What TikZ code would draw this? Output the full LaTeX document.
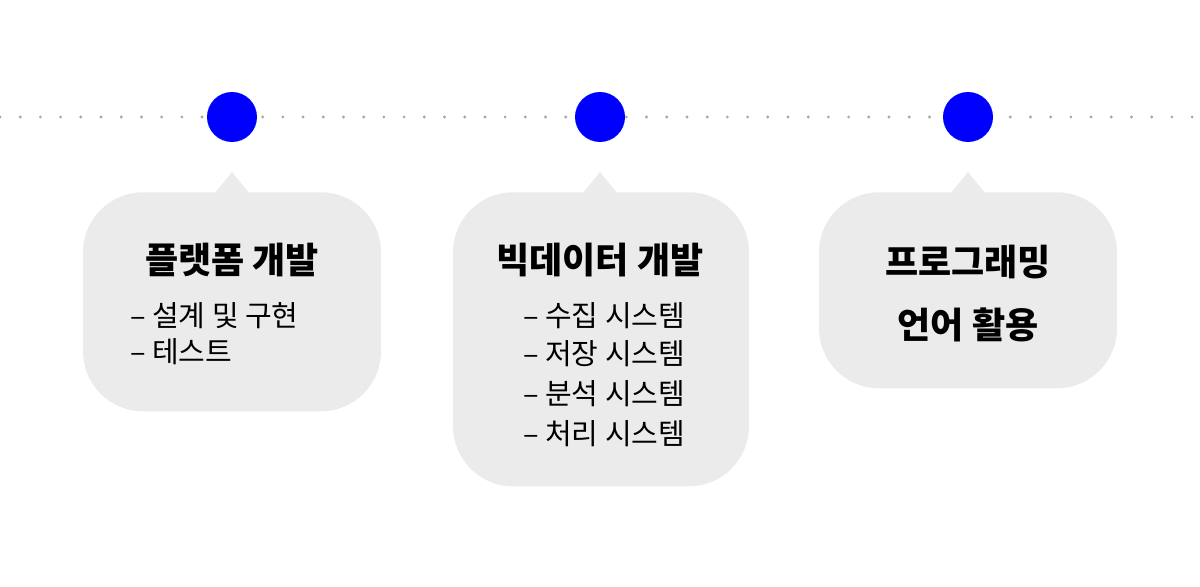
\documentclass[tikz,border=0pt]{standalone}
\usepackage{fontspec}
\newfontfamily\kr{Noto Sans CJK KR}
\usetikzlibrary{positioning}
\tikzset{
    dot/.style={circle, fill=blue, minimum size=1cm, inner sep=0pt},
    bubble/.style={rectangle, fill=black!8, rounded corners=1.2cm, minimum width=5.96cm},
    title/.style={font=\kr\bfseries\fontsize{20.5}{24}\selectfont, align=center},
    item/.style={font=\kr\fontsize{16.5}{19}\selectfont, anchor=west}
}
\begin{document}
\begin{tikzpicture}[x=0.02cm, y=-0.02cm]
    \useasboundingbox (0,0) rectangle (1200,587);
    % timeline
    \coordinate (lstart) at (0,117);
    \coordinate (lend) at (1200,117);
    \draw[black!35, line width=1.8pt, line cap=round, dash pattern=on 0pt off 11.5pt] (lstart) -- (lend);
    \node[dot] (p1) at (232,117) {};
    \node[dot] (p2) at (600,117) {};
    \node[dot] (p3) at (968,117) {};
    % bubbles
    \node[bubble, minimum height=4.38cm, anchor=north] (b1) at (232,192) {};
    \node[bubble, minimum height=5.88cm, minimum width=5.92cm, anchor=north] (b2) at (601,192) {};
    \node[bubble, minimum height=3.92cm, anchor=north] (b3) at (968,192) {};
    \foreach \b/\x in {b1/232, b2/600, b3/968}
        \fill[black!8] (\x-17,193) -- (\x,172) -- (\x+17,193) -- cycle;
    % texts
    \node[title] (t1) at (232,260) {플랫폼 개발};
    \node[item] (i11) at (124,316) {– 설계 및 구현};
    \node[item] (i12) at (124,352) {– 테스트};
    \node[title] (t2) at (600,260) {빅데이터 개발};
    \node[item] (i21) at (517,316) {– 수집 시스템};
    \node[item] (i22) at (517,354) {– 저장 시스템};
    \node[item] (i23) at (517,394) {– 분석 시스템};
    \node[item] (i24) at (517,434) {– 처리 시스템};
    \node[title] (t3a) at (968,262) {프로그래밍};
    \node[title] (t3b) at (968,325) {언어 활용};
\end{tikzpicture}
\end{document}
